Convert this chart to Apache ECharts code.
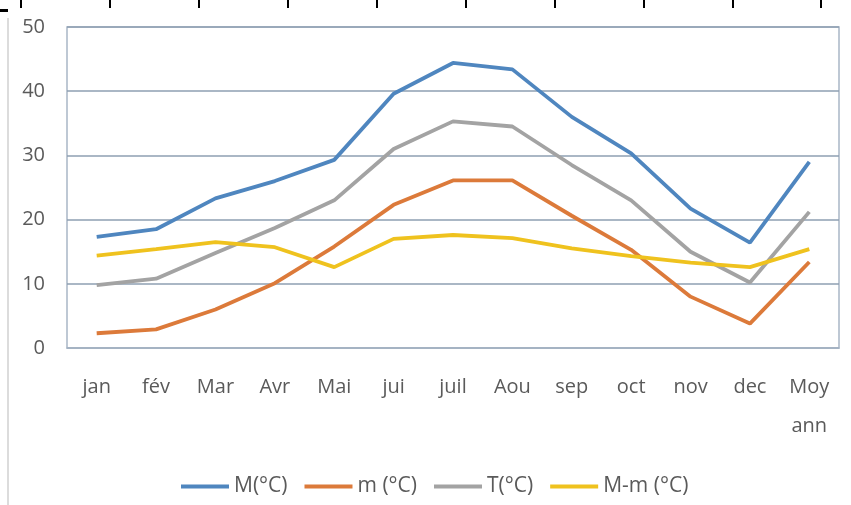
<!DOCTYPE html>
<html>
<head>
<meta charset="utf-8">
<script src="https://cdn.jsdelivr.net/npm/echarts@6/dist/echarts.min.js"></script>
<style>
  html, body { margin: 0; padding: 0; background: #fff; }
  #chart { width: 851px; height: 505px; }
</style>
</head>
<body>
<div id="chart"></div>
<script>
// Monthly temperatures (°C)
const categories = ['jan', 'fév', 'Mar', 'Avr', 'Mai', 'jui', 'juil', 'Aou', 'sep', 'oct', 'nov', 'dec', 'Moy\nann'];
const seriesNames = ['M(°C)', 'm (°C)', 'T(°C)', 'M-m (°C)'];
const maxTemp  = [17.3, 18.5, 23.3, 26.0, 29.3, 39.6, 44.4, 43.4, 36.0, 30.3, 21.7, 16.4, 29.0];
const minTemp  = [2.3, 2.9, 6.0, 10.1, 15.8, 22.3, 26.1, 26.1, 20.6, 15.3, 8.0, 3.8, 13.4];
const meanTemp = [9.8, 10.8, 14.8, 18.7, 23.0, 31.0, 35.3, 34.5, 28.5, 23.0, 15.0, 10.2, 21.2];
const rangeTemp = [14.4, 15.4, 16.5, 15.7, 12.6, 17.0, 17.6, 17.1, 15.5, 14.3, 13.3, 12.6, 15.4];
const yTicks = { min: 0, max: 50, interval: 10 };

const colors = ['#4f86bf', '#dc7a3a', '#a3a3a3', '#efc21e'];
const values = [maxTemp, minTemp, meanTemp, rangeTemp];
const textColor = '#5a5a5a';
const font = '"Open Sans", "Noto Sans", sans-serif';

// Table-cell border fragments framing the chart
const topTicks = [21, 110, 199, 288, 377, 466, 555, 644, 733, 821];
const graphic = topTicks.map(x => ({
  type: 'rect', shape: { x: x - 1, y: 0, width: 2, height: 8 },
  style: { fill: '#000' }, silent: true
}));
graphic.push({ type: 'rect', shape: { x: 0, y: 9, width: 8, height: 3 }, style: { fill: '#000' }, silent: true });
graphic.push({ type: 'rect', shape: { x: 7, y: 18, width: 2, height: 487 }, style: { fill: '#dcdcdc' }, silent: true });

const chart = echarts.init(document.getElementById('chart'), null, { renderer: 'canvas' });
chart.setOption({
  animation: false,
  backgroundColor: '#fff',
  graphic: graphic,
  grid: {
    left: 67, right: 12, top: 27, bottom: 157,
    show: true, borderColor: '#a9b7c6', borderWidth: 1.5, backgroundColor: 'transparent'
  },
  legend: {
    data: seriesNames,
    left: 176, bottom: 3,
    icon: 'rect', itemWidth: 48, itemHeight: 4, itemGap: 17,
    textStyle: { color: textColor, fontFamily: font, fontSize: 21 }
  },
  xAxis: {
    type: 'category',
    data: categories,
    boundaryGap: true,
    axisLine: { show: true, lineStyle: { color: '#a9b7c6', width: 1.5 } },
    axisTick: { show: false },
    axisLabel: {
      color: textColor, fontFamily: font, fontSize: 20,
      margin: 20, lineHeight: 39, interval: 0
    }
  },
  yAxis: {
    type: 'value',
    min: yTicks.min, max: yTicks.max, interval: yTicks.interval,
    axisLine: { show: false },
    axisTick: { show: false },
    axisLabel: { color: textColor, fontFamily: font, fontSize: 20, margin: 22 },
    splitLine: { show: true, lineStyle: { color: '#8e9fb2', width: 1.5 } }
  },
  series: seriesNames.map((name, i) => ({
    name: name,
    type: 'line',
    data: values[i],
    symbol: 'none',
    color: colors[i],
    lineStyle: { color: colors[i], width: 3.8 },
    z: 3 + i
  }))
});
</script>
</body>
</html>
